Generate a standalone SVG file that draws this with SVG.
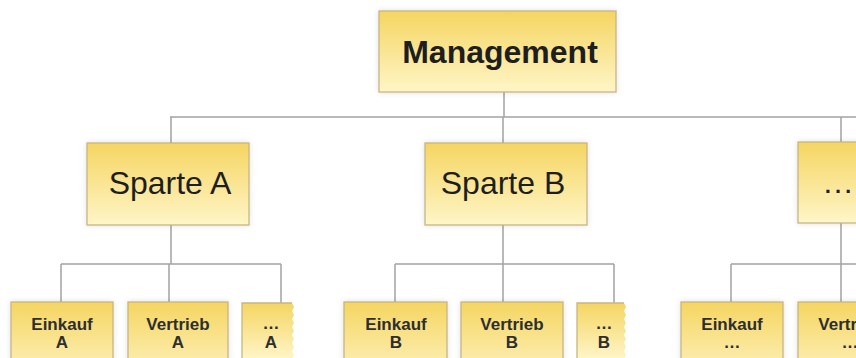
<svg xmlns="http://www.w3.org/2000/svg" width="856" height="358" viewBox="0 0 856 358">
  <defs>
    <linearGradient id="gold" x1="0" y1="0" x2="0" y2="1">
      <stop offset="0" stop-color="#F5D561"/>
      <stop offset="0.5" stop-color="#FAE594"/>
      <stop offset="1" stop-color="#FFF6C8"/>
    </linearGradient>
    <filter id="glow" x="-10%" y="-10%" width="120%" height="130%">
      <feGaussianBlur in="SourceAlpha" stdDeviation="3"/>
      <feComponentTransfer><feFuncA type="linear" slope="0.12"/></feComponentTransfer>
      <feMerge><feMergeNode/><feMergeNode in="SourceGraphic"/></feMerge>
    </filter>
    <style>
      .box { fill: url(#gold); stroke: #C6B583; stroke-width: 1.3; filter: url(#glow); }
      .tear { fill: url(#gold); stroke: none; }
      .edge { fill: none; stroke: #C6B583; stroke-width: 1.3; }
      .con { fill: none; stroke: #A3A3A3; stroke-width: 1.5; }
      .big { font-family: "Liberation Sans", Arial, sans-serif; font-size: 32px; fill: #1e1e1e; text-anchor: middle; }
      .title { font-family: "Liberation Sans", Arial, sans-serif; font-size: 32px; font-weight: bold; fill: #1e1e1e; text-anchor: middle; }
      .small { font-family: "Liberation Sans", Arial, sans-serif; font-size: 17px; font-weight: bold; fill: #2e2e2e; text-anchor: middle; }
    </style>
  </defs>
  <rect width="856" height="358" fill="#FFFFFF"/>

  <g id="connectors">
    <path class="con" d="M504,92 V117 M170,117 H856 M171,117 V143 M503,117 V143 M841,117 V142"/>
    <path class="con" d="M171,225 V264 M61,264 H281 M61,264 V302 M169,264 V302 M281,264 V303"/>
    <path class="con" d="M503,225 V264 M395,264 H614 M395,264 V302 M503,264 V302 M614,264 V303"/>
    <path class="con" d="M841,223 V264 M731,264 H856 M731,264 V302 M841,264 V302"/>
  </g>

  <g id="management">
    <rect class="box" x="379" y="11" width="237" height="81"/>
    <text class="title" x="500" y="63">Management</text>
  </g>

  <g id="sparte-a">
    <rect class="box" x="87" y="143" width="162" height="82"/>
    <text class="big" x="170" y="194">Sparte A</text>
  </g>
  <g id="sparte-b">
    <rect class="box" x="425" y="143" width="162" height="82"/>
    <text class="big" x="503" y="194">Sparte B</text>
  </g>
  <g id="sparte-more">
    <rect class="box" x="798" y="142" width="120" height="81"/>
    <text class="big" x="838" y="193">…</text>
  </g>

  <g id="einkauf-a">
    <rect class="box" x="11" y="302" width="102" height="82"/>
    <text class="small" x="62" y="330">Einkauf</text>
    <text class="small" x="62" y="348">A</text>
  </g>
  <g id="vertrieb-a">
    <rect class="box" x="128" y="302" width="100" height="82"/>
    <text class="small" x="178" y="330">Vertrieb</text>
    <text class="small" x="178" y="348">A</text>
  </g>
  <g id="more-a">
    <path class="tear" d="M242,303 H292 l2,4 -2,4 2,4 -2,4 2,4 -2,4 2,4 -2,4 2,4 -2,4 2,4 -2,4 2,4 -2,4 V358 H242 Z"/>
    <path class="edge" d="M242,358 V303 H292"/>
    <text class="small" x="271" y="329">…</text>
    <text class="small" x="271" y="348">A</text>
  </g>

  <g id="einkauf-b">
    <rect class="box" x="344" y="302" width="103" height="82"/>
    <text class="small" x="396" y="330">Einkauf</text>
    <text class="small" x="396" y="348">B</text>
  </g>
  <g id="vertrieb-b">
    <rect class="box" x="461" y="302" width="102" height="82"/>
    <text class="small" x="512" y="330">Vertrieb</text>
    <text class="small" x="512" y="348">B</text>
  </g>
  <g id="more-b">
    <path class="tear" d="M577,303 H624 l2,4 -2,4 2,4 -2,4 2,4 -2,4 2,4 -2,4 2,4 -2,4 2,4 -2,4 2,4 -2,4 V358 H577 Z"/>
    <path class="edge" d="M577,358 V303 H624"/>
    <text class="small" x="604" y="329">…</text>
    <text class="small" x="604" y="348">B</text>
  </g>

  <g id="einkauf-more">
    <rect class="box" x="681" y="302" width="102" height="82"/>
    <text class="small" x="732" y="330">Einkauf</text>
    <text class="small" x="732" y="348">…</text>
  </g>
  <g id="vertrieb-more">
    <rect class="box" x="798" y="302" width="102" height="82"/>
    <text class="small" x="850" y="330">Vertrieb</text>
    <text class="small" x="850" y="348">…</text>
  </g>
</svg>
